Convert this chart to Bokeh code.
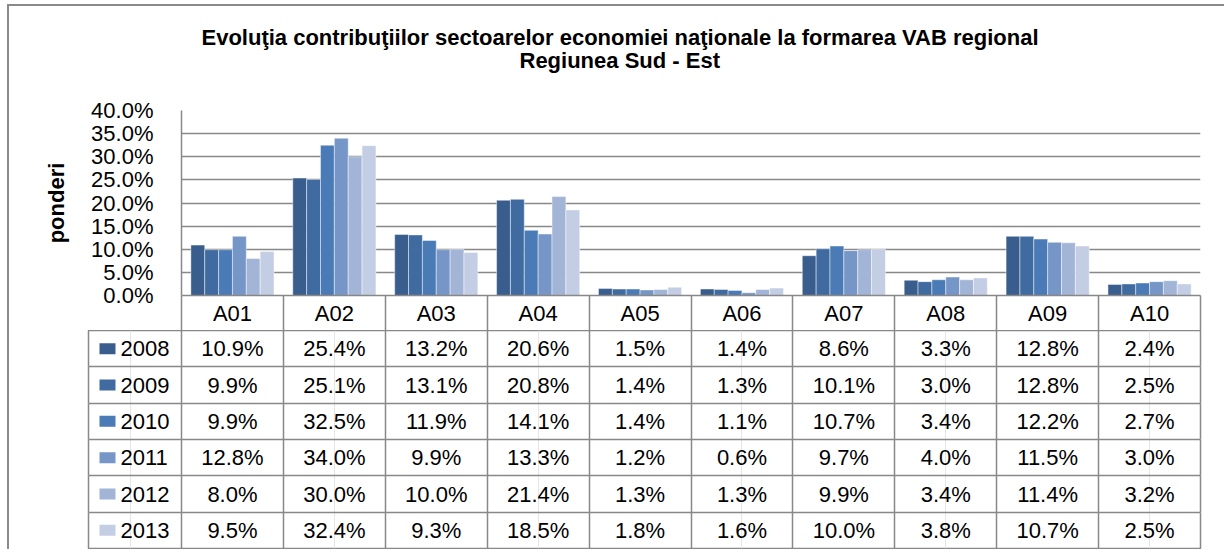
from bokeh.plotting import figure
from bokeh.models import Range1d, FixedTicker, PrintfTickFormatter, Grid, ColumnDataSource, Title
from bokeh.layouts import column
from bokeh.core.properties import value
from bokeh.embed import file_html
from bokeh.resources import INLINE

# ---------------- data ----------------
categories = ["A01", "A02", "A03", "A04", "A05", "A06", "A07", "A08", "A09", "A10"]
years = ["2008", "2009", "2010", "2011", "2012", "2013"]
v2008 = [10.9, 25.4, 13.2, 20.6, 1.5, 1.4, 8.6, 3.3, 12.8, 2.4]
v2009 = [9.9, 25.1, 13.1, 20.8, 1.4, 1.3, 10.1, 3.0, 12.8, 2.5]
v2010 = [9.9, 32.5, 11.9, 14.1, 1.4, 1.1, 10.7, 3.4, 12.2, 2.7]
v2011 = [12.8, 34.0, 9.9, 13.3, 1.2, 0.6, 9.7, 4.0, 11.5, 3.0]
v2012 = [8.0, 30.0, 10.0, 21.4, 1.3, 1.3, 9.9, 3.4, 11.4, 3.2]
v2013 = [9.5, 32.4, 9.3, 18.5, 1.8, 1.6, 10.0, 3.8, 10.7, 2.5]
y_ticks = [0, 5, 10, 15, 20, 25, 30, 35, 40]

series = [v2008, v2009, v2010, v2011, v2012, v2013]
colors = ["#395E8D", "#406BA0", "#4A7BB7", "#7696C7", "#A2B5D7", "#C3CEE4"]

GREY = "#888888"
FONT = "Liberation Sans"
title_line1 = "Evoluţia contribuţiilor sectoarelor economiei naţionale la formarea VAB regional"
title_line2 = "Regiunea Sud - Est"

n = len(categories)
centers = [i + 1 for i in range(n)]
bounds = [i + 0.5 for i in range(n + 1)]

W = 1215

# ---------------- bar chart ----------------
pa = figure(width=W, height=324, x_range=Range1d(0.5, n + 0.5), y_range=Range1d(0, 40),
            output_backend="svg", toolbar_location=None,
            min_border_left=172, min_border_right=24, min_border_top=104, min_border_bottom=35)
pa.outline_line_color = None
pa.background_fill_color = "white"
pa.border_fill_color = "white"

bw = 0.136
for j, (vals, col) in enumerate(zip(series, colors)):
    xs = [c + (j - 2.5) * bw for c in centers]
    src = ColumnDataSource(dict(x=xs, top=vals))
    pa.vbar(x="x", top="top", bottom=0, width=bw, source=src, fill_color=col,
            line_color="white", line_alpha=0.45, line_width=1)

# title: line 1 is the plot title (outermost), line 2 a sub-title, plus an empty spacer
pa.title.text = title_line1
pa.title.align = "left"
pa.title.offset = 20
pa.title.standoff = -9
pa.title.text_font = FONT
pa.title.text_font_size = "22px"
pa.title.text_font_style = "bold"
pa.title.text_color = "black"

spacer = Title(text=" ", align="left", standoff=11, text_font=FONT,
               text_font_size="22px", text_color="white")
sub = Title(text=title_line2, align="left", offset=338, standoff=0, text_font=FONT,
            text_font_size="22px", text_font_style="bold", text_color="black")
pa.add_layout(spacer, "above")
pa.add_layout(sub, "above")

xa = pa.xaxis[0]
xa.ticker = FixedTicker(ticks=centers, minor_ticks=bounds)
xa.major_label_overrides = {c: lab for c, lab in zip(centers, categories)}
xa.major_tick_out = 0
xa.major_tick_in = 0
xa.minor_tick_out = 35
xa.minor_tick_in = 0
xa.minor_tick_line_color = GREY
xa.minor_tick_line_width = 1.5
xa.axis_line_color = GREY
xa.axis_line_width = 1.5
xa.major_label_standoff = -30
xa.major_label_text_font = FONT
xa.major_label_text_font_size = "22px"
xa.major_label_text_color = "black"

ya = pa.yaxis[0]
ya.ticker = FixedTicker(ticks=y_ticks, minor_ticks=[])
ya.formatter = PrintfTickFormatter(format="%.1f%%")
ya.major_tick_out = 0
ya.major_tick_in = 0
ya.minor_tick_out = 0
ya.minor_tick_in = 0
ya.axis_line_color = GREY
ya.axis_line_width = 1.5
ya.major_label_standoff = 28
ya.major_label_text_font = FONT
ya.major_label_text_font_size = "22px"
ya.major_label_text_color = "black"
ya.axis_label = "ponderi"
ya.axis_label_text_font = FONT
ya.axis_label_text_font_size = "22px"
ya.axis_label_text_font_style = "bold"
ya.axis_label_text_color = "black"
ya.axis_label_standoff = 19

pa.xgrid.visible = False
pa.ygrid.ticker = FixedTicker(ticks=y_ticks)
pa.ygrid.grid_line_color = GREY
pa.ygrid.grid_line_width = 1.5

# ---------------- data table ----------------
px_per_unit = (1191 - 172) / n
x_left = 0.5 - (181 - 88) / px_per_unit
pb = figure(width=W, height=219, x_range=Range1d(x_left, n + 0.5), y_range=Range1d(len(years), 0),
            x_axis_location=None, y_axis_location=None,
            output_backend="svg", toolbar_location=None,
            min_border_left=79, min_border_right=24, min_border_top=0, min_border_bottom=1)
pb.outline_line_color = GREY
pb.outline_line_width = 1.5
pb.background_fill_color = "white"
pb.border_fill_color = "white"
pb.add_layout(Grid(dimension=0, ticker=FixedTicker(ticks=bounds), grid_line_color=GREY, grid_line_width=1.5))
pb.add_layout(Grid(dimension=1, ticker=FixedTicker(ticks=list(range(1, len(years)))),
                   grid_line_color=GREY, grid_line_width=1.5))

tx, ty, tt = [], [], []
for j, vals in enumerate(series):
    for c, v in zip(centers, vals):
        tx.append(c)
        ty.append(j + 0.5)
        tt.append(f"{v:.1f}%")
pb.text(x="x", y="y", text="t", source=ColumnDataSource(dict(x=tx, y=ty, t=tt)),
        text_font=value(FONT), text_font_size=value("22px"), text_color="black",
        text_align="center", text_baseline="middle")

row_y = [j + 0.5 for j in range(len(years))]
leg_sq_x = x_left + 19 / px_per_unit
leg_txt_x = x_left + 32 / px_per_unit
pb.rect(x=[leg_sq_x] * len(years), y=row_y, width=16, height=11,
        width_units="screen", height_units="screen", fill_color=colors, line_color=None)
pb.text(x=[leg_txt_x] * len(years), y=row_y, text=years,
        text_font=value(FONT), text_font_size=value("22px"), text_color="black",
        text_align="left", text_baseline="middle")

top_block = column(pa, spacing=0,
                   styles={"margin-left": "7px", "margin-top": "4px",
                           "border-left": "2px solid #8a8a8a", "border-top": "2px solid #8a8a8a"})
bottom_block = column(pb, spacing=0,
                      styles={"margin-left": "7px", "border-left": "2px solid #8a8a8a"})

open("out.html", "w").write(file_html([top_block, bottom_block], INLINE))
